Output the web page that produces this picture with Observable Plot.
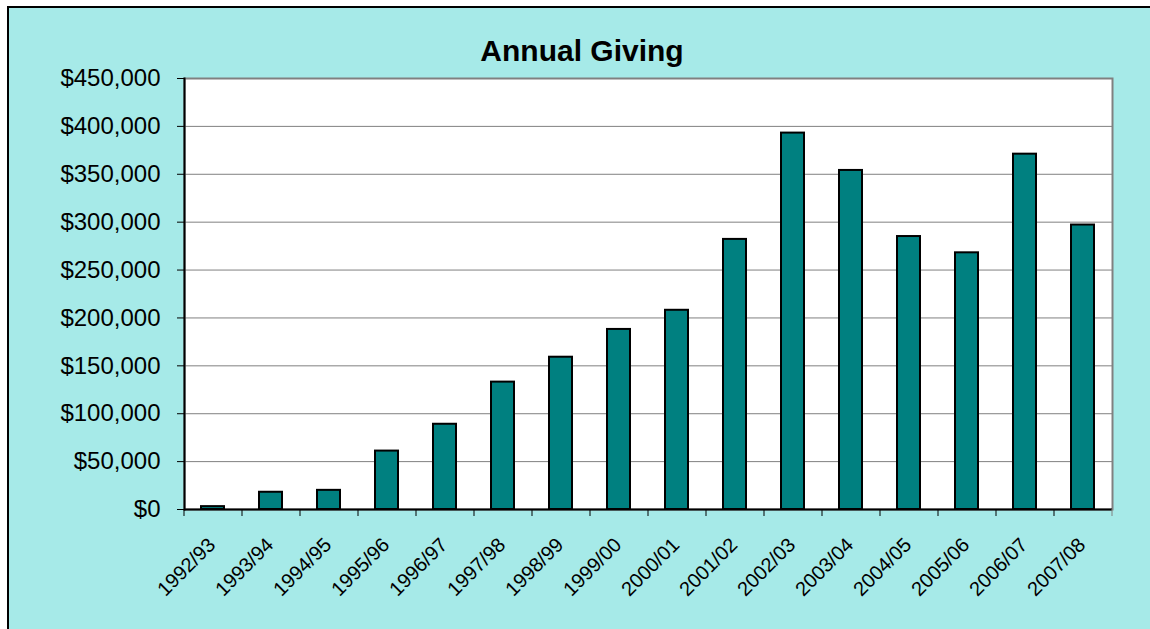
<!DOCTYPE html>
<html>
<head>
<meta charset="utf-8">
<script src="https://cdn.jsdelivr.net/npm/d3@7"></script>
<script src="https://cdn.jsdelivr.net/npm/@observablehq/plot@0.6"></script>
<style>
  html, body { margin: 0; padding: 0; background: #ffffff; }
  #wrap { position: relative; width: 1150px; height: 629px; overflow: hidden; background: #ffffff; font-family: "Liberation Sans", Arial, sans-serif; }
  #panel { position: absolute; left: 7px; top: 6px; width: 1160px; height: 640px; background: #a6eae8; border-left: 2px solid #000; border-top: 2px solid #000; box-sizing: border-box; }
  #title { position: absolute; left: 0; top: 34px; width: 1164px; text-align: center; font-weight: bold; font-size: 30px; line-height: 34px; color: #000; z-index: 2; }
  #chart { position: absolute; left: 0; top: 40px; z-index: 1; }
</style>
</head>
<body>
<div id="wrap">
  <div id="panel"></div>
  <div id="title">Annual Giving</div>
  <div id="chart"></div>
</div>
<script>
const categories = ["1992/93","1993/94","1994/95","1995/96","1996/97","1997/98","1998/99","1999/00","2000/01","2001/02","2002/03","2003/04","2004/05","2005/06","2006/07","2007/08"];
const giving = [3000, 18000, 20000, 61000, 89000, 133000, 159000, 188000, 208000, 282000, 393000, 354000, 285000, 268000, 371000, 297000];
const yTicks = [0, 50000, 100000, 150000, 200000, 250000, 300000, 350000, 400000, 450000];

const table = categories.map((c, i) => ({year: c, value: giving[i]}));
const W = 1150, H = 589, ML = 184, MR = 38, MT = 38, MB = 120;
const step = (W - ML - MR) / categories.length;
const fmt = d => "$" + d3.format(",")(d);

const chart = Plot.plot({
  width: W, height: H,
  marginLeft: ML, marginRight: MR, marginTop: MT, marginBottom: MB,
  style: {background: "transparent", fontFamily: "'Liberation Sans', Arial, sans-serif", fontSize: "24px", color: "#000"},
  x: {domain: categories, paddingInner: 0.6, paddingOuter: 0.3, label: null},
  y: {domain: [0, 450000], label: null},
  marks: [
    Plot.frame({fill: "white", stroke: "#808080", strokeWidth: 2}),
    Plot.gridY(yTicks, {stroke: "#808080", strokeOpacity: 1, strokeWidth: 1}),
    Plot.barY(table, {x: "year", y: "value", fill: "#008080", stroke: "#000", strokeWidth: 2}),
    Plot.ruleY([0], {stroke: "#000", strokeWidth: 2}),
    Plot.frame({anchor: "left", stroke: "#000", strokeWidth: 2}),
    Plot.axisY({ticks: yTicks, tickSize: 7, tickPadding: 17, tickFormat: fmt, fontSize: 24, label: null, stroke: "#000"}),
    Plot.axisX({tickSize: 7, tickFormat: () => "", dx: -step / 2, label: null, stroke: "#000"}),
    Plot.axisX({ticks: [categories[categories.length - 1]], tickSize: 7, tickFormat: () => "", dx: step / 2, label: null, stroke: "#808080"}),
    Plot.axisX({tickSize: 0, tickPadding: 32, tickRotate: -45, fontSize: 20, label: null, dx: -1})
  ]
});
document.getElementById("chart").appendChild(chart);
</script>
</body>
</html>
